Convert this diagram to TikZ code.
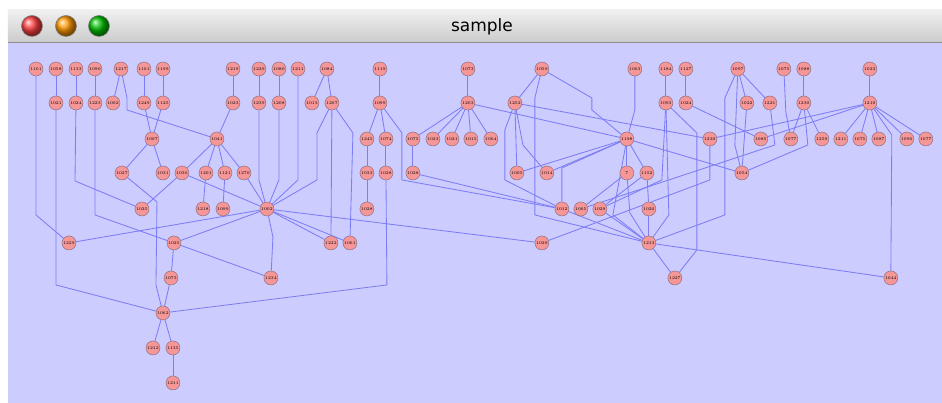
\documentclass[tikz,border=0pt]{standalone}
\usepackage{fontspec}
\setsansfont{DejaVu Sans}
\usetikzlibrary{backgrounds}

\definecolor{pane}{RGB}{204,204,255}
\definecolor{linkblue}{RGB}{125,125,245}
\definecolor{nodefill}{RGB}{246,150,150}
\definecolor{nodeline}{RGB}{140,112,130}
\definecolor{bartop}{RGB}{240,240,240}
\definecolor{barbot}{RGB}{204,204,204}

\pgfdeclarelayer{edges}
\pgfsetlayers{background,edges,main}

\begin{document}
\begin{tikzpicture}[
        x=1pt, y=-1pt,
        tag/.style={font=\fontsize{4.2}{5}\selectfont, text=black, inner sep=0pt},
        vtx/.style={circle, draw=nodeline, fill=nodefill, line width=0.5pt, minimum size=14pt, inner sep=0pt, label={[tag]center:#1}},
        link/.style={draw=linkblue, line width=0.85pt, line join=round},
        knob/.style={circle, draw=black!50, line width=0.6pt, minimum size=21pt, inner sep=0pt}
      ]
      % window frame
      \begin{pgfonlayer}{background}
        \fill[white] (0,0) rectangle (942,403);
        \fill[pane] (8,43) rectangle (942,403);
        \shade[top color=bartop, bottom color=barbot] (8,10) rectangle (942,42);
        \draw[black!45] (8,42.5) -- (942,42.5);
      \end{pgfonlayer}
      \useasboundingbox (0,0) rectangle (942,403);
      \node[knob, ball color=red!75] (close) at (32,26) {};
      \node[knob, ball color=orange!80!yellow] (shrink) at (66,26) {};
      \node[knob, ball color=green!75!black] (grow) at (99,26) {};
      \node[font=\sffamily\fontsize{17}{20}\selectfont] (title) at (482,27) {sample};

      % row 1
      \node[vtx=1101] (a1) at (36,69) {};
      \node[vtx=1058] (a2) at (56,69) {};
      \node[vtx=1133] (a3) at (76,69) {};
      \node[vtx=1090] (a4) at (95,69) {};
      \node[vtx=1217] (a5) at (121,69) {};
      \node[vtx=1161] (a6) at (144,69) {};
      \node[vtx=1199] (a7) at (163,69) {};
      \node[vtx=1219] (a8) at (233,69) {};
      \node[vtx=1229] (a9) at (259,69) {};
      \node[vtx=1080] (a10) at (279,69) {};
      \node[vtx=1211] (a11) at (298,69) {};
      \node[vtx=1084] (a12) at (327,69) {};
      \node[vtx=1119] (a13) at (380,69) {};
      \node[vtx=1073] (a14) at (468,69) {};
      \node[vtx=1059] (a15) at (542,69) {};
      \node[vtx=1063] (a16) at (635,69) {};
      \node[vtx=1184] (a17) at (666,69) {};
      \node[vtx=1127] (a18) at (686,69) {};
      \node[vtx=1097] (a19) at (738,69) {};
      \node[vtx=1075] (a20) at (784,69) {};
      \node[vtx=1088] (a21) at (804,69) {};
      \node[vtx=1023] (a22) at (870,69) {};
      % row 2
      \node[vtx=1021] (b1) at (56,103) {};
      \node[vtx=1024] (b2) at (76,103) {};
      \node[vtx=1223] (b3) at (95,103) {};
      \node[vtx=1002] (b4) at (113,103) {};
      \node[vtx=1249] (b5) at (144,103) {};
      \node[vtx=1125] (b6) at (163,103) {};
      \node[vtx=1023] (b7) at (233,103) {};
      \node[vtx=1239] (b8) at (259,103) {};
      \node[vtx=1208] (b9) at (279,103) {};
      \node[vtx=1013] (b10) at (312,103) {};
      \node[vtx=1267] (b11) at (332,103) {};
      \node[vtx=1099] (b12) at (380,103) {};
      \node[vtx=1203] (b13) at (468,103) {};
      \node[vtx=1252] (b14) at (515,103) {};
      \node[vtx=1093] (b15) at (666,103) {};
      \node[vtx=1024] (b16) at (686,103) {};
      \node[vtx=1022] (b17) at (747,103) {};
      \node[vtx=1221] (b18) at (770,103) {};
      \node[vtx=1230] (b19) at (804,103) {};
      \node[vtx=1210] (b20) at (870,103) {};
      % row 3
      \node[vtx=1007] (c1) at (152,139) {};
      \node[vtx=1041] (c2) at (217,139) {};
      \node[vtx=1245] (c3) at (367,139) {};
      \node[vtx=1074] (c4) at (386,139) {};
      \node[vtx=1075] (c5) at (413,139) {};
      \node[vtx=1023] (c6) at (433,139) {};
      \node[vtx=1021] (c7) at (452,139) {};
      \node[vtx=1015] (c8) at (471,139) {};
      \node[vtx=1064] (c9) at (491,139) {};
      \node[vtx=1198] (c10) at (627,139) {};
      \node[vtx=1230] (c11) at (710,139) {};
      \node[vtx=1085] (c12) at (761,139) {};
      \node[vtx=1077] (c13) at (791,139) {};
      \node[vtx=1259] (c14) at (822,139) {};
      \node[vtx=1211] (c15) at (841,139) {};
      \node[vtx=1075] (c16) at (860,139) {};
      \node[vtx=1087] (c17) at (879,139) {};
      \node[vtx=1096] (c18) at (907,139) {};
      \node[vtx=1077] (c19) at (926,139) {};
      % row 4
      \node[vtx=1027] (d1) at (122,173) {};
      \node[vtx=1031] (d2) at (163,173) {};
      \node[vtx=1036] (d3) at (182,173) {};
      \node[vtx=1201] (d4) at (206,173) {};
      \node[vtx=1121] (d5) at (225,173) {};
      \node[vtx=1270] (d6) at (244,173) {};
      \node[vtx=1033] (d7) at (367,173) {};
      \node[vtx=1028] (d8) at (386,173) {};
      \node[vtx=1028] (d9) at (413,173) {};
      \node[vtx=1005] (d10) at (517,173) {};
      \node[vtx=1014] (d11) at (547,173) {};
      \node[vtx=7] (d12) at (627,173) {};
      \node[vtx=1152] (d13) at (647,173) {};
      \node[vtx=1054] (d14) at (742,173) {};
      % row 5
      \node[vtx=1025] (e1) at (142,209) {};
      \node[vtx=1218] (e2) at (203,209) {};
      \node[vtx=1099] (e3) at (223,209) {};
      \node[vtx=1002] (e4) at (267,209) {};
      \node[vtx=1028] (e5) at (367,209) {};
      \node[vtx=1012] (e6) at (562,209) {};
      \node[vtx=1065] (e7) at (581,209) {};
      \node[vtx=1029] (e8) at (600,209) {};
      \node[vtx=1020] (e9) at (649,209) {};
      % row 6
      \node[vtx=1229] (f1) at (69,243) {};
      \node[vtx=1025] (f2) at (174,243) {};
      \node[vtx=1222] (f3) at (331,243) {};
      \node[vtx=1061] (f4) at (350,243) {};
      \node[vtx=1029] (f5) at (542,243) {};
      \node[vtx=1213] (f6) at (649,243) {};
      % rows 7 to 10
      \node[vtx=1073] (g1) at (171,278) {};
      \node[vtx=1234] (g2) at (271,278) {};
      \node[vtx=1227] (g3) at (675,278) {};
      \node[vtx=1044] (g4) at (891,278) {};
      \node[vtx=1062] (h1) at (163,313) {};
      \node[vtx=1212] (i1) at (153,348) {};
      \node[vtx=1135] (i2) at (173,348) {};
      \node[vtx=1211] (j1) at (173,383) {};

      \begin{pgfonlayer}{edges}
        % short links between rows
        \draw[link] (a2) -- (b1);  \draw[link] (a3) -- (b2);  \draw[link] (a4) -- (b3);
        \draw[link] (a5) -- (b4);  \draw[link] (a6) -- (b5);  \draw[link] (a7) -- (b6);
        \draw[link] (a8) -- (b7);  \draw[link] (a9) -- (b8);  \draw[link] (a10) -- (b9);
        \draw[link] (a12) -- (b10); \draw[link] (a12) -- (b11); \draw[link] (a13) -- (b12);
        \draw[link] (a14) -- (b13); \draw[link] (a15) -- (b14); \draw[link] (a17) -- (b15);
        \draw[link] (a18) -- (b16); \draw[link] (a19) -- (b17); \draw[link] (a19) -- (b18);
        \draw[link] (a21) -- (b19); \draw[link] (a22) -- (b20);
        \draw[link] (b5) -- (c1);  \draw[link] (b6) -- (c1);  \draw[link] (c1) -- (d1);
        \draw[link] (c1) -- (d2);  \draw[link] (b7) -- (c2);  \draw[link] (c2) -- (d3);
        \draw[link] (c2) -- (d4);  \draw[link] (c2) -- (d5);  \draw[link] (c2) -- (d6);
        \draw[link] (d3) -- (e1);  \draw[link] (d4) -- (e2);  \draw[link] (d5) -- (e3);
        \draw[link] (d6) -- (e4);  \draw[link] (d3) -- (e4);
        \draw[link] (b12) -- (c3); \draw[link] (b12) -- (c4); \draw[link] (c3) -- (d7);
        \draw[link] (d7) -- (e5);  \draw[link] (c4) -- (d8);  \draw[link] (c5) -- (d9);
        \draw[link] (b13) -- (c5); \draw[link] (b13) -- (c6); \draw[link] (b13) -- (c7);
        \draw[link] (b13) -- (c8); \draw[link] (b13) -- (c9);
        \draw[link] (b13) -- (c10); \draw[link] (b14) -- (c11); \draw[link] (b14) -- (d10);
        \draw[link] (c10) -- (d10); \draw[link] (c10) -- (d11); \draw[link] (c10) -- (d12);
        \draw[link] (c10) -- (d13); \draw[link] (c10) -- (d14);
        \draw[link] (d12) -- (e7); \draw[link] (d13) -- (e8); \draw[link] (d13) -- (e9);
        \draw[link] (e9) -- (f6);  \draw[link] (e6) -- (f6);  \draw[link] (e8) -- (f6);
        \draw[link] (f6) -- (g3);  \draw[link] (f6) -- (g4);  \draw[link] (d9) -- (e6);
        \draw[link] (b16) -- (c12); \draw[link] (b17) -- (d14);
        \draw[link] (b19) -- (c13); \draw[link] (b19) -- (c14);
        \draw[link] (b20) -- (c11); \draw[link] (b20) -- (c12); \draw[link] (b20) -- (c15);
        \draw[link] (b20) -- (c16); \draw[link] (b20) -- (c17); \draw[link] (b20) -- (c18);
        \draw[link] (b20) -- (c19);
        \draw[link] (e4) -- (f1);  \draw[link] (e4) -- (f2);  \draw[link] (e4) -- (f3);
        \draw[link] (e4) -- (f4);  \draw[link] (e4) -- (f5);  \draw[link] (b11) -- (f3);
        \draw[link] (f2) -- (g1);  \draw[link] (f2) -- (g2);  \draw[link] (g1) -- (h1);
        \draw[link] (h1) -- (i1);  \draw[link] (h1) -- (i2);  \draw[link] (i2) -- (j1);
        % routed links
        \draw[link] (a1) -- (36,215) -- (f1);
        \draw[link] (b1) -- (56,285) -- (h1);
        \draw[link] (b2) -- (75,181) -- (e1);
        \draw[link] (b3) -- (95,215) -- (f2);
        \draw[link] (a5) -- (127,98) -- (127,110) -- (c2);
        \draw[link] (d1) -- (157,202) -- (156,285) -- (h1);
        \draw[link] (b8) -- (259,180) -- (e4);
        \draw[link] (b9) -- (279,180) -- (e4);
        \draw[link] (a11) -- (298,180) -- (e4);
        \draw[link] (b11) -- (317,133) -- (317,180) -- (e4);
        \draw[link] (b11) -- (353,133) -- (f4);
        \draw[link] (e4) -- (273,237) -- (g2);
        \draw[link] (d8) -- (387,285) -- (h1);
        \draw[link] (b12) -- (402,133) -- (402,180) -- (e6);
        \draw[link] (b14) -- (523,145) -- (d11);
        \draw[link] (b14) -- (505,130) -- (505,180) -- (e6);
        \draw[link] (a15) -- (535,98) -- (535,215) -- (f6);
        \draw[link] (a15) -- (592,98) -- (592,110) -- (c10);
        \draw[link] (a16) -- (635,110) -- (c10);
        \draw[link] (c10) -- (562,168) -- (e6);
        \draw[link] (c10) -- (613,215) -- (f6);
        \draw[link] (d12) -- (630,213) -- (f6);
        \draw[link] (b15) -- (697,133) -- (697,250) -- (g3);
        \draw[link] (b15) -- (662,180) -- (e8);
        \draw[link] (b15) -- (669,215) -- (f6);
        \draw[link] (c11) -- (710,180) -- (f5);
        \draw[link] (a19) -- (725,98) -- (725,215) -- (f6);
        \draw[link] (a19) -- (735,145) -- (d14);
        \draw[link] (b18) -- (775,145) -- (e7);
        \draw[link] (a20) -- (786,112) -- (c13);
        \draw[link] (b19) -- (808,145) -- (d14);
        \draw[link] (b20) -- (892,135) -- (g4);
      \end{pgfonlayer}
    \end{tikzpicture}
\end{document}
